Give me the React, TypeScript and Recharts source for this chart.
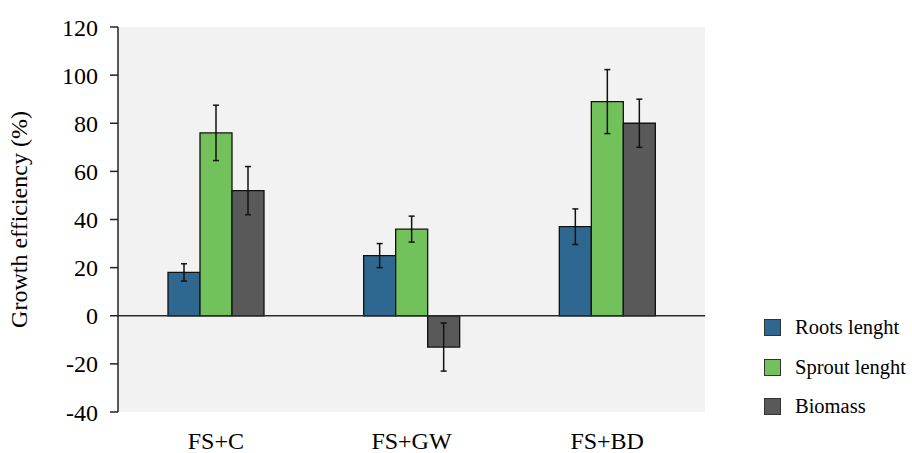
import React from "react";
import {
  BarChart,
  Bar,
  XAxis,
  YAxis,
  CartesianGrid,
  ReferenceLine,
  ErrorBar,
} from "recharts";

const categories = ["FS+C", "FS+GW", "FS+BD"];
const rootsValues = [18, 25, 37];
const rootsErrors = [3.6, 5, 7.4];
const sproutValues = [76, 36, 89];
const sproutErrors = [11.5, 5.4, 13.3];
const biomassValues = [52, -13, 80];
const biomassErrors = [10, 10, 10];
const yTicks = [-40, -20, 0, 20, 40, 60, 80, 100, 120];

const seriesNames = ["Roots lenght", "Sprout lenght", "Biomass"];
const seriesColors = ["#2E6790", "#72C15A", "#595959"];

const data = categories.map((c, i) => ({
  name: c,
  roots: rootsValues[i],
  rootsErr: rootsErrors[i],
  sprout: sproutValues[i],
  sproutErr: sproutErrors[i],
  biomass: biomassValues[i],
  biomassErr: biomassErrors[i],
}));

const FONT = '"Liberation Serif", serif';

export default function App() {
  return (
    <div
      style={{
        position: "absolute",
        left: 0,
        top: 0,
        width: 912,
        height: 453,
        fontFamily: FONT,
      }}
    >
      <BarChart
        width={912}
        height={453}
        data={data}
        margin={{ top: 27, right: 207, bottom: 0, left: 0 }}
        barGap={0}
        barSize={32}
        style={{ fontFamily: FONT }}
      >
        <CartesianGrid
          fill="#F2F2F2"
          stroke="none"
          horizontal={false}
          vertical={false}
        />
        <XAxis
          dataKey="name"
          axisLine={false}
          tickLine={false}
          tickSize={8}
          tickMargin={12}
          height={41}
          tick={{ fill: "#000", fontSize: 24, fontFamily: FONT }}
        />
        <YAxis
          width={118}
          domain={[-40, 120]}
          ticks={yTicks}
          interval={0}
          axisLine={{ stroke: "#222", strokeWidth: 1.5 }}
          tickLine={{ stroke: "#222", strokeWidth: 1.5 }}
          tickSize={8}
          tickMargin={12}
          tick={{ fill: "#000", fontSize: 24, fontFamily: FONT }}
          label={{
            value: "Growth efficiency (%)",
            angle: -90,
            position: "insideLeft",
            offset: 18,
            style: {
              textAnchor: "middle",
              fill: "#000",
              fontSize: 24,
              fontFamily: FONT,
            },
          }}
        />
        <ReferenceLine y={0} stroke="#2a2a2a" strokeWidth={1.5} />
        <Bar
          dataKey="roots"
          name={seriesNames[0]}
          fill={seriesColors[0]}
          stroke="#111"
          strokeWidth={1.3}
          isAnimationActive={false}
        >
          <ErrorBar dataKey="rootsErr" width={3} stroke="#111" strokeWidth={1.5} direction="y" />
        </Bar>
        <Bar
          dataKey="sprout"
          name={seriesNames[1]}
          fill={seriesColors[1]}
          stroke="#111"
          strokeWidth={1.3}
          isAnimationActive={false}
        >
          <ErrorBar dataKey="sproutErr" width={3} stroke="#111" strokeWidth={1.5} direction="y" />
        </Bar>
        <Bar
          dataKey="biomass"
          name={seriesNames[2]}
          fill={seriesColors[2]}
          stroke="#111"
          strokeWidth={1.3}
          isAnimationActive={false}
        >
          <ErrorBar dataKey="biomassErr" width={3} stroke="#111" strokeWidth={1.5} direction="y" />
        </Bar>
      </BarChart>
      <div
        style={{
          position: "absolute",
          left: 764,
          top: 308,
          fontSize: 20.5,
          color: "#000",
          fontFamily: FONT,
        }}
      >
        {seriesNames.map((n, i) => (
          <div
            key={n}
            style={{ display: "flex", alignItems: "center", height: 39.6 }}
          >
            <div
              style={{
                width: 15,
                height: 15,
                background: seriesColors[i],
                border: "1px solid #333",
                marginRight: 14,
                flexShrink: 0,
              }}
            />
            <span style={{ whiteSpace: "nowrap" }}>{n}</span>
          </div>
        ))}
      </div>
    </div>
  );
}
